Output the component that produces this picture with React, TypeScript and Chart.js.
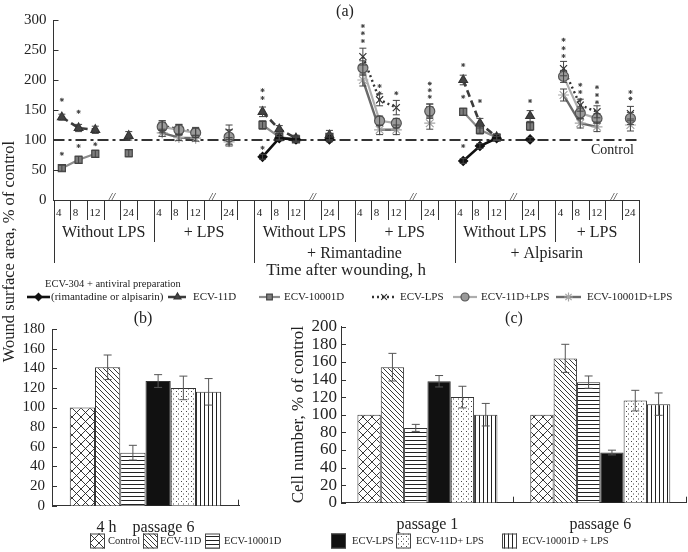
import React, { useEffect, useRef } from 'react';
import { Chart, registerables } from 'chart.js';
import { drawPoint } from 'chart.js/helpers';

Chart.register(...registerables);

const FONT = '"Liberation Serif", "Times New Roman", serif';
const TEXT = '#222';
const AXIS = '#333';

// ---------- Panel (a) data ----------
const timeLabels = ['4', '8', '12', '//', '24', ''];
const timeSlots = [0, 1, 2, 4];
const conditionLabels = ['Without LPS', '+ LPS', 'Without LPS', '+ LPS', 'Without LPS', '+ LPS'];
const treatmentLabels = ['', '+ Rimantadine', '+ Alpisarin'];
const yTicksA = [0, 50, 100, 150, 200, 250, 300];
const controlLevel = 100;

const antiviral = [null, null, [72, 103, 101, 101], null, [65, 90, 103, 101], null];
const antiviralErr = [null, null, [4, 3, 3, 4], null, [4, 4, 3, 3], null];
const ecv11D = [[138, 120, 117, 107], null, [147, 118, 103, 108], null, [200, 128, 105, 140], null];
const ecv11DErr = [[5, 6, 6, 7], null, [8, 6, 5, 8], null, [8, 8, 5, 9], null];
const ecv10001D = [[53, 67, 77, 78], null, [125, 105, 101, 105], null, [147, 117, 104, 123], null];
const ecv10001DErr = [[5, 6, 6, 6], null, [7, 5, 5, 5], null, [6, 7, 5, 7], null];
const ecvLPS = [null, [124, 118, 114, 113], null, [239, 167, 154, 150], null, [219, 158, 147, 144]];
const ecvLPSErr = [null, [8, 8, 7, 12], null, [14, 10, 12, 10], null, [12, 10, 10, 12]];
const ecv11DLPS = [null, [122, 117, 112, 105], null, [220, 132, 128, 148], null, [206, 145, 136, 136]];
const ecv11DLPSErr = [null, [10, 9, 8, 12], null, [12, 8, 8, 12], null, [10, 10, 8, 10]];
const ecv10001DLPS = [null, [112, 104, 103, 97], null, [200, 117, 117, 128], null, [175, 128, 122, 125]];
const ecv10001DLPSErr = [null, [6, 5, 5, 7], null, [10, 8, 8, 10], null, [10, 8, 8, 10]];

// significance marks (slot index on the time axis, value)
const sigSlot = [0, 0, 1, 1, 2, 12, 12, 12, 18, 18, 18, 19, 19, 20, 22, 22, 22, 24, 24, 24, 25, 28, 30, 30, 30, 31, 31, 31, 32, 32, 32, 34, 34];
const sigValue = [167, 77, 147, 90, 93, 183, 170, 87, 290, 278, 265, 190, 178, 178, 194, 183, 172, 225, 172, 90, 165, 165, 267, 253, 240, 192, 180, 167, 188, 175, 163, 180, 169];

// ---------- Panels (b), (c) data ----------
const seriesNames = ['Control', 'ECV-11D', 'ECV-10001D', 'ECV-LPS', 'ECV-11D+ LPS', 'ECV-10001D + LPS'];
const patternKinds = ['cross', 'diag', 'horiz', 'solid', 'dots', 'vert'];
const woundCategory = ['4 h    passage 6'];
const woundValues = [100, 141, 54, 127, 120, 116];
const woundErr = [0, 12.5, 7.5, 6.5, 12, 13.5];
const yTicksB = [0, 20, 40, 60, 80, 100, 120, 140, 160, 180];
const cellCategories = ['passage 1', 'passage 6'];
const cellPassage1 = [100, 154, 85, 138, 120, 100];
const cellPassage1Err = [0, 15.7, 4, 6.5, 12.3, 12.8];
const cellPassage6 = [100, 164, 137, 57, 116, 112];
const cellPassage6Err = [0, 16, 7, 2.7, 11.7, 12.7];
const yTicksC = [0, 20, 40, 60, 80, 100, 120, 140, 160, 180, 200];

// ---------- helpers ----------
function makePattern(kind: string): any {
  if (kind === 'solid') return '#111';
  const c = document.createElement('canvas');
  const s = kind === 'cross' ? 9 : kind === 'dots' ? 5 : kind === 'diag' ? 5 : 4;
  c.width = s;
  c.height = s;
  const g = c.getContext('2d')!;
  g.fillStyle = '#fff';
  g.fillRect(0, 0, s, s);
  g.strokeStyle = '#222';
  g.fillStyle = '#222';
  g.lineWidth = 0.9;
  if (kind === 'cross') {
    g.beginPath();
    g.moveTo(0, 0); g.lineTo(s, s);
    g.moveTo(s, 0); g.lineTo(0, s);
    g.stroke();
  } else if (kind === 'diag') {
    g.beginPath();
    for (const k of [-1, 0, 1]) { g.moveTo(0, k * s); g.lineTo(s, s + k * s); }
    g.stroke();
  } else if (kind === 'horiz') {
    g.fillRect(0, 0, s, 1);
  } else if (kind === 'vert') {
    g.fillRect(0, 0, 1, s);
  } else if (kind === 'dots') {
    g.fillStyle = '#444';
    g.fillRect(1, 1, 1, 1);
    g.fillRect(3, 3.5, 1, 1);
  }
  return g.createPattern(c, 'repeat');
}

function buildSeries(values: any[], errors: any[]) {
  const pts: any[] = [];
  const errs: any[] = [];
  values.forEach((grp, g) => {
    if (!grp) return;
    grp.forEach((v: number, i: number) => {
      pts.push({ x: g * 6 + timeSlots[i], y: v });
      errs.push(errors[g][i]);
      if (i === 2) { pts.push({ x: g * 6 + 3, y: null }); errs.push(null); }
    });
    pts.push({ x: g * 6 + 5, y: null });
    errs.push(null);
  });
  return { pts, errs };
}

const seriesA = [
  { label: 'ECV-304 + antiviral preparation', values: antiviral, errors: antiviralErr, line: '#111', dash: [], width: 2.6, style: 'rectRot', radius: 4.5, fill: '#111', border: '#111', order: 2 },
  { label: 'ECV-11D', values: ecv11D, errors: ecv11DErr, line: '#3c3c3c', dash: [7, 4], width: 2.6, style: 'triangle', radius: 5, fill: '#444', border: '#333', order: 3 },
  { label: 'ECV-10001D', values: ecv10001D, errors: ecv10001DErr, line: '#8c8c8c', dash: [], width: 2.2, style: 'rect', radius: 5, fill: '#7d7d7d', border: '#444', order: 4 },
  { label: 'ECV-LPS', values: ecvLPS, errors: ecvLPSErr, line: '#333', dash: [2, 3], width: 2.4, style: 'crossRot', radius: 5, fill: '#333', border: '#333', order: 5 },
  { label: 'ECV-11D+LPS', values: ecv11DLPS, errors: ecv11DLPSErr, line: '#adadad', dash: [], width: 2.2, style: 'circle', radius: 5, fill: '#9a9a9a', border: '#555', order: 1 },
  { label: 'ECV-10001D+LPS', values: ecv10001DLPS, errors: ecv10001DLPSErr, line: '#6a6a6a', dash: [], width: 2.4, style: 'star', radius: 5.5, fill: '#bbb', border: '#a5a5a5', order: 6 },
];

const legendA = [
  { x1: 27, x2: 50, tx: 51, text: '(rimantadine or alpisarin)' },
  { x1: 168, x2: 187, tx: 193, text: 'ECV-11D' },
  { x1: 259, x2: 280, tx: 284, text: 'ECV-10001D' },
  { x1: 372, x2: 396, tx: 400, text: 'ECV-LPS' },
  { x1: 453, x2: 477, tx: 481, text: 'ECV-11D+LPS' },
  { x1: 556, x2: 581, tx: 587, text: 'ECV-10001D+LPS' },
];

const legendBottom = [
  { bx: 90, tx: 108 },
  { bx: 143, tx: 160 },
  { bx: 205, tx: 224 },
  { bx: 331, tx: 352 },
  { bx: 396, tx: 416 },
  { bx: 502, tx: 522 },
];

function errorBarPlugin(capHalf: number, color: string) {
  return {
    id: 'errorBars',
    afterDatasetsDraw(chart: any) {
      const { ctx } = chart;
      const y = chart.scales.y;
      ctx.save();
      ctx.strokeStyle = color;
      ctx.lineWidth = 1;
      chart.data.datasets.forEach((ds: any, di: number) => {
        if (!ds.errorBars) return;
        const meta = chart.getDatasetMeta(di);
        ds.data.forEach((d: any, j: number) => {
          const e = ds.errorBars[j];
          const v = typeof d === 'number' ? d : d && d.y;
          if (!e || v == null) return;
          const el = meta.data[j];
          if (!el) return;
          const px = el.x;
          const hi = y.getPixelForValue(v + e);
          const lo = y.getPixelForValue(v - e);
          ctx.beginPath();
          ctx.moveTo(px, hi); ctx.lineTo(px, lo);
          ctx.moveTo(px - capHalf, hi); ctx.lineTo(px + capHalf, hi);
          ctx.moveTo(px - capHalf, lo); ctx.lineTo(px + capHalf, lo);
          ctx.stroke();
        });
      });
      ctx.restore();
    },
  };
}

const inwardTicks = {
  id: 'inwardTicks',
  afterDraw(chart: any) {
    const { ctx, chartArea } = chart;
    const y = chart.scales.y;
    const x = chart.scales.x;
    ctx.save();
    ctx.strokeStyle = AXIS;
    ctx.lineWidth = 1;
    y.ticks.forEach((t: any) => {
      const py = Math.round(y.getPixelForValue(t.value)) + 0.5;
      ctx.beginPath();
      ctx.moveTo(chartArea.left, py);
      ctx.lineTo(chartArea.left + 5, py);
      ctx.stroke();
    });
    if (x.type === 'category') {
      const n = x.getLabels().length;
      for (let i = 1; i <= n; i++) {
        const px = Math.round(x.getPixelForValue(i - 0.5)) - 0.5;
        ctx.beginPath();
        ctx.moveTo(px, chartArea.bottom);
        ctx.lineTo(px, chartArea.bottom - 6);
        ctx.stroke();
      }
    }
    ctx.restore();
  },
};

function panelLabel(text: string, x: number, y: number) {
  return {
    id: 'panelLabel',
    afterDraw(chart: any) {
      const { ctx } = chart;
      ctx.save();
      ctx.font = `16px ${FONT}`;
      ctx.fillStyle = TEXT;
      ctx.textAlign = 'center';
      ctx.textBaseline = 'middle';
      ctx.fillText(text, x, y);
      ctx.restore();
    },
  };
}

const sideTitle = {
  id: 'sideTitle',
  afterDraw(chart: any) {
    const { ctx } = chart;
    ctx.save();
    ctx.translate(10, 251.5);
    ctx.rotate(-Math.PI / 2);
    ctx.font = `16.5px ${FONT}`;
    ctx.fillStyle = TEXT;
    ctx.textAlign = 'center';
    ctx.textBaseline = 'middle';
    ctx.fillText('Wound surface area, % of control', 0, 0);
    ctx.restore();
  },
};

const controlLine = {
  id: 'controlLine',
  beforeDatasetsDraw(chart: any) {
    const { ctx, chartArea } = chart;
    const py = chart.scales.y.getPixelForValue(controlLevel);
    ctx.save();
    ctx.strokeStyle = AXIS;
    ctx.lineWidth = 2;
    ctx.setLineDash([11, 4, 3, 4]);
    ctx.beginPath();
    ctx.moveTo(chartArea.left, py);
    ctx.lineTo(chartArea.right, py);
    ctx.stroke();
    ctx.setLineDash([]);
    ctx.font = `14px ${FONT}`;
    ctx.fillStyle = TEXT;
    ctx.textAlign = 'right';
    ctx.textBaseline = 'middle';
    ctx.fillText('Control', chartArea.right - 5, py + 10);
    ctx.restore();
  },
};

const tableA = {
  id: 'tableA',
  afterDraw(chart: any) {
    const { ctx, chartArea } = chart;
    const xs = chart.scales.x;
    const b = chartArea.bottom;
    const last = 34;
    ctx.save();
    ctx.strokeStyle = AXIS;
    ctx.fillStyle = TEXT;
    ctx.lineWidth = 1;
    const vline = (x: number, len: number) => {
      const px = Math.round(x) + 0.5;
      ctx.beginPath();
      ctx.moveTo(px, b);
      ctx.lineTo(px, b + len);
      ctx.stroke();
    };
    for (let g = 0; g < 6; g++) {
      for (let k = 0; k < 6; k++) {
        const idx = g * 6 + k;
        if (idx > last) break;
        const xl = xs.getPixelForValue(idx - 0.5);
        let len = 20;
        if (k === 0) len = g % 2 === 0 ? 63 : 42;
        vline(xl, len);
        const lab = timeLabels[k];
        if (lab === '//') {
          ctx.font = `italic 11px ${FONT}`;
          ctx.textAlign = 'center';
          ctx.textBaseline = 'middle';
          ctx.fillText('//', xs.getPixelForValue(idx), b - 3);
        } else if (lab) {
          ctx.font = `11px ${FONT}`;
          ctx.textAlign = 'left';
          ctx.textBaseline = 'middle';
          ctx.fillText(lab, xl + 2.5, b + 13);
        }
      }
    }
    vline(xs.getPixelForValue(last + 0.5), 63);
    ctx.font = `16px ${FONT}`;
    ctx.textAlign = 'center';
    ctx.textBaseline = 'middle';
    for (let g = 0; g < 6; g++) {
      const x1 = xs.getPixelForValue(g * 6 - 0.5);
      const x2 = xs.getPixelForValue(Math.min(g * 6 + 5.5, last + 0.5));
      ctx.fillText(conditionLabels[g], (x1 + x2) / 2, b + 33);
    }
    for (let t = 0; t < 3; t++) {
      if (!treatmentLabels[t]) continue;
      const x1 = xs.getPixelForValue(t * 12 - 0.5);
      const x2 = xs.getPixelForValue(Math.min(t * 12 + 11.5, last + 0.5));
      ctx.fillText(treatmentLabels[t], (x1 + x2) / 2, b + 54);
    }
    ctx.font = `17px ${FONT}`;
    ctx.fillText('Time after wounding, h', (chartArea.left + chartArea.right) / 2, b + 71);
    ctx.restore();
  },
};

const legendAPlugin = {
  id: 'legendA',
  afterDraw(chart: any) {
    const { ctx } = chart;
    const y = 297;
    ctx.save();
    ctx.font = `10.5px ${FONT}`;
    ctx.fillStyle = TEXT;
    ctx.textBaseline = 'middle';
    ctx.textAlign = 'left';
    ctx.fillText('ECV-304 + antiviral preparation', 45, 284);
    ctx.font = `11px ${FONT}`;
    legendA.forEach((it, i) => {
      const s = seriesA[i];
      ctx.save();
      ctx.strokeStyle = s.line;
      ctx.lineWidth = s.width;
      ctx.setLineDash(s.dash);
      ctx.beginPath();
      ctx.moveTo(it.x1, y);
      ctx.lineTo(it.x2, y);
      ctx.stroke();
      ctx.setLineDash([]);
      ctx.fillStyle = s.fill;
      ctx.strokeStyle = s.border;
      ctx.lineWidth = 1.2;
      drawPoint(ctx, { pointStyle: s.style, rotation: 0, radius: s.radius * 0.8, borderWidth: 1.2 } as any, (it.x1 + it.x2) / 2, y);
      ctx.restore();
      ctx.fillStyle = TEXT;
      ctx.fillText(it.text, it.tx, y);
    });
    ctx.restore();
  },
};

function bottomLegend(patterns: any[]) {
  return {
    id: 'bottomLegend',
    afterDraw(chart: any) {
      const { ctx } = chart;
      const y = 241;
      ctx.save();
      ctx.font = `10.5px ${FONT}`;
      ctx.textBaseline = 'middle';
      ctx.textAlign = 'left';
      legendBottom.forEach((it, i) => {
        ctx.fillStyle = patterns[i];
        ctx.fillRect(it.bx, y - 7.5, 15, 15);
        ctx.strokeStyle = '#444';
        ctx.lineWidth = 1;
        ctx.strokeRect(it.bx + 0.5, y - 7, 14, 14);
        ctx.fillStyle = TEXT;
        ctx.fillText(seriesNames[i], it.tx, y);
      });
      ctx.restore();
    },
  };
}

function configA(): any {
  const datasets: any[] = seriesA.map((s) => {
    const { pts, errs } = buildSeries(s.values, s.errors);
    return {
      label: s.label,
      data: pts,
      errorBars: errs,
      borderColor: s.line,
      borderWidth: s.width,
      borderDash: s.dash,
      pointStyle: s.style,
      pointRadius: s.radius,
      pointBackgroundColor: s.fill,
      pointBorderColor: s.border,
      pointBorderWidth: 1.2,
      spanGaps: false,
      fill: false,
      tension: 0,
      order: s.order,
    };
  });
  datasets.push({
    label: 'significance',
    data: sigSlot.map((x, i) => ({ x, y: sigValue[i] })),
    showLine: false,
    pointStyle: 'star',
    pointRadius: 2,
    pointBorderColor: '#444',
    pointBackgroundColor: '#444',
    pointBorderWidth: 1,
    order: 0,
  });
  return {
    type: 'line',
    data: { datasets },
    options: {
      responsive: false,
      animation: false,
      devicePixelRatio: 1,
      layout: { padding: { top: 20, right: 49.2, bottom: 0, left: 0 } },
      plugins: { legend: { display: false }, tooltip: { enabled: false } },
      scales: {
        x: {
          type: 'linear', min: -0.5, max: 34.5,
          grid: { display: false, drawTicks: false },
          ticks: { display: false },
          border: { color: AXIS, width: 1 },
          afterFit: (s: any) => { s.height = 352; },
        },
        y: {
          min: 0, max: 300,
          grid: { display: false, drawTicks: false },
          border: { color: AXIS, width: 1 },
          ticks: { font: { family: FONT, size: 15 }, color: TEXT, padding: 7, autoSkip: false },
          afterBuildTicks: (s: any) => { s.ticks = yTicksA.map((v) => ({ value: v })); },
          afterFit: (s: any) => { s.width = 53.5; },
        },
      },
    },
    plugins: [controlLine, errorBarPlugin(3.5, '#444'), inwardTicks, tableA, legendAPlugin, panelLabel('(a)', 345, 12), sideTitle],
  };
}

function barDatasets(patterns: any[], values: number[][], errs: number[][]) {
  return seriesNames.map((name, i) => ({
    label: name,
    data: values.map((v) => v[i]),
    errorBars: errs.map((e) => e[i]),
    backgroundColor: patterns[i],
    borderColor: '#333',
    borderWidth: 1,
    barPercentage: 1,
    categoryPercentage: 0.81,
  }));
}

function configB(patterns: any[]): any {
  return {
    type: 'bar',
    data: { labels: woundCategory, datasets: barDatasets(patterns, [woundValues], [woundErr]) },
    options: {
      responsive: false,
      animation: false,
      devicePixelRatio: 1,
      layout: { padding: { top: 29, right: 449, bottom: 0, left: 0 } },
      plugins: { legend: { display: false }, tooltip: { enabled: false } },
      scales: {
        x: {
          grid: { display: false, drawTicks: false },
          border: { color: AXIS, width: 1 },
          ticks: { font: { family: FONT, size: 16 }, color: TEXT, padding: 12 },
          afterFit: (s: any) => { s.height = 46.3; },
        },
        y: {
          min: 0, max: 180,
          grid: { display: false, drawTicks: false },
          border: { color: AXIS, width: 1 },
          ticks: { font: { family: FONT, size: 15 }, color: TEXT, padding: 7, autoSkip: false },
          afterBuildTicks: (s: any) => { s.ticks = yTicksB.map((v) => ({ value: v })); },
          afterFit: (s: any) => { s.width = 52; },
        },
      },
    },
    plugins: [errorBarPlugin(4, '#555'), inwardTicks, bottomLegend(patterns), panelLabel('(b)', 143, 19)],
  };
}

function configC(patterns: any[]): any {
  return {
    type: 'bar',
    data: {
      labels: cellCategories,
      datasets: barDatasets(patterns, [cellPassage1, cellPassage6], [cellPassage1Err, cellPassage6Err]),
    },
    options: {
      responsive: false,
      animation: false,
      devicePixelRatio: 1,
      layout: { padding: { top: 26.7, right: 1.3, bottom: 0, left: 0 } },
      plugins: { legend: { display: false }, tooltip: { enabled: false } },
      scales: {
        x: {
          grid: { display: false, drawTicks: false },
          border: { color: AXIS, width: 1 },
          ticks: { font: { family: FONT, size: 16 }, color: TEXT, padding: 12 },
          afterFit: (s: any) => { s.height = 42.3; },
        },
        y: {
          min: 0, max: 200,
          grid: { display: false, drawTicks: false },
          border: { color: AXIS, width: 1 },
          ticks: { font: { family: FONT, size: 17 }, color: TEXT, padding: 4, autoSkip: false },
          title: { display: true, text: 'Cell number, % of control', font: { family: FONT, size: 17 }, color: TEXT, padding: { top: 33, bottom: 0 } },
          afterBuildTicks: (s: any) => { s.ticks = yTicksC.map((v) => ({ value: v })); },
          afterFit: (s: any) => { s.width = 86; },
        },
      },
    },
    plugins: [errorBarPlugin(4, '#555'), inwardTicks, panelLabel('(c)', 259, 19)],
  };
}

export default function App() {
  const refA = useRef<HTMLCanvasElement>(null);
  const refB = useRef<HTMLCanvasElement>(null);
  const refC = useRef<HTMLCanvasElement>(null);

  useEffect(() => {
    const patterns = patternKinds.map(makePattern);
    const c = new Chart(refC.current!, configC(patterns));
    const b = new Chart(refB.current!, configB(patterns));
    const a = new Chart(refA.current!, configA());
    return () => { a.destroy(); b.destroy(); c.destroy(); };
  }, []);

  return (
    <div style={{ position: 'absolute', left: 0, top: 0, width: 688, height: 552, background: '#fff', overflow: 'hidden' }}>
      <canvas ref={refC} width={433} height={245} style={{ position: 'absolute', left: 255, top: 300 }} />
      <canvas ref={refB} width={688} height={252} style={{ position: 'absolute', left: 0, top: 300 }} />
      <canvas ref={refA} width={688} height={552} style={{ position: 'absolute', left: 0, top: 0 }} />
    </div>
  );
}
